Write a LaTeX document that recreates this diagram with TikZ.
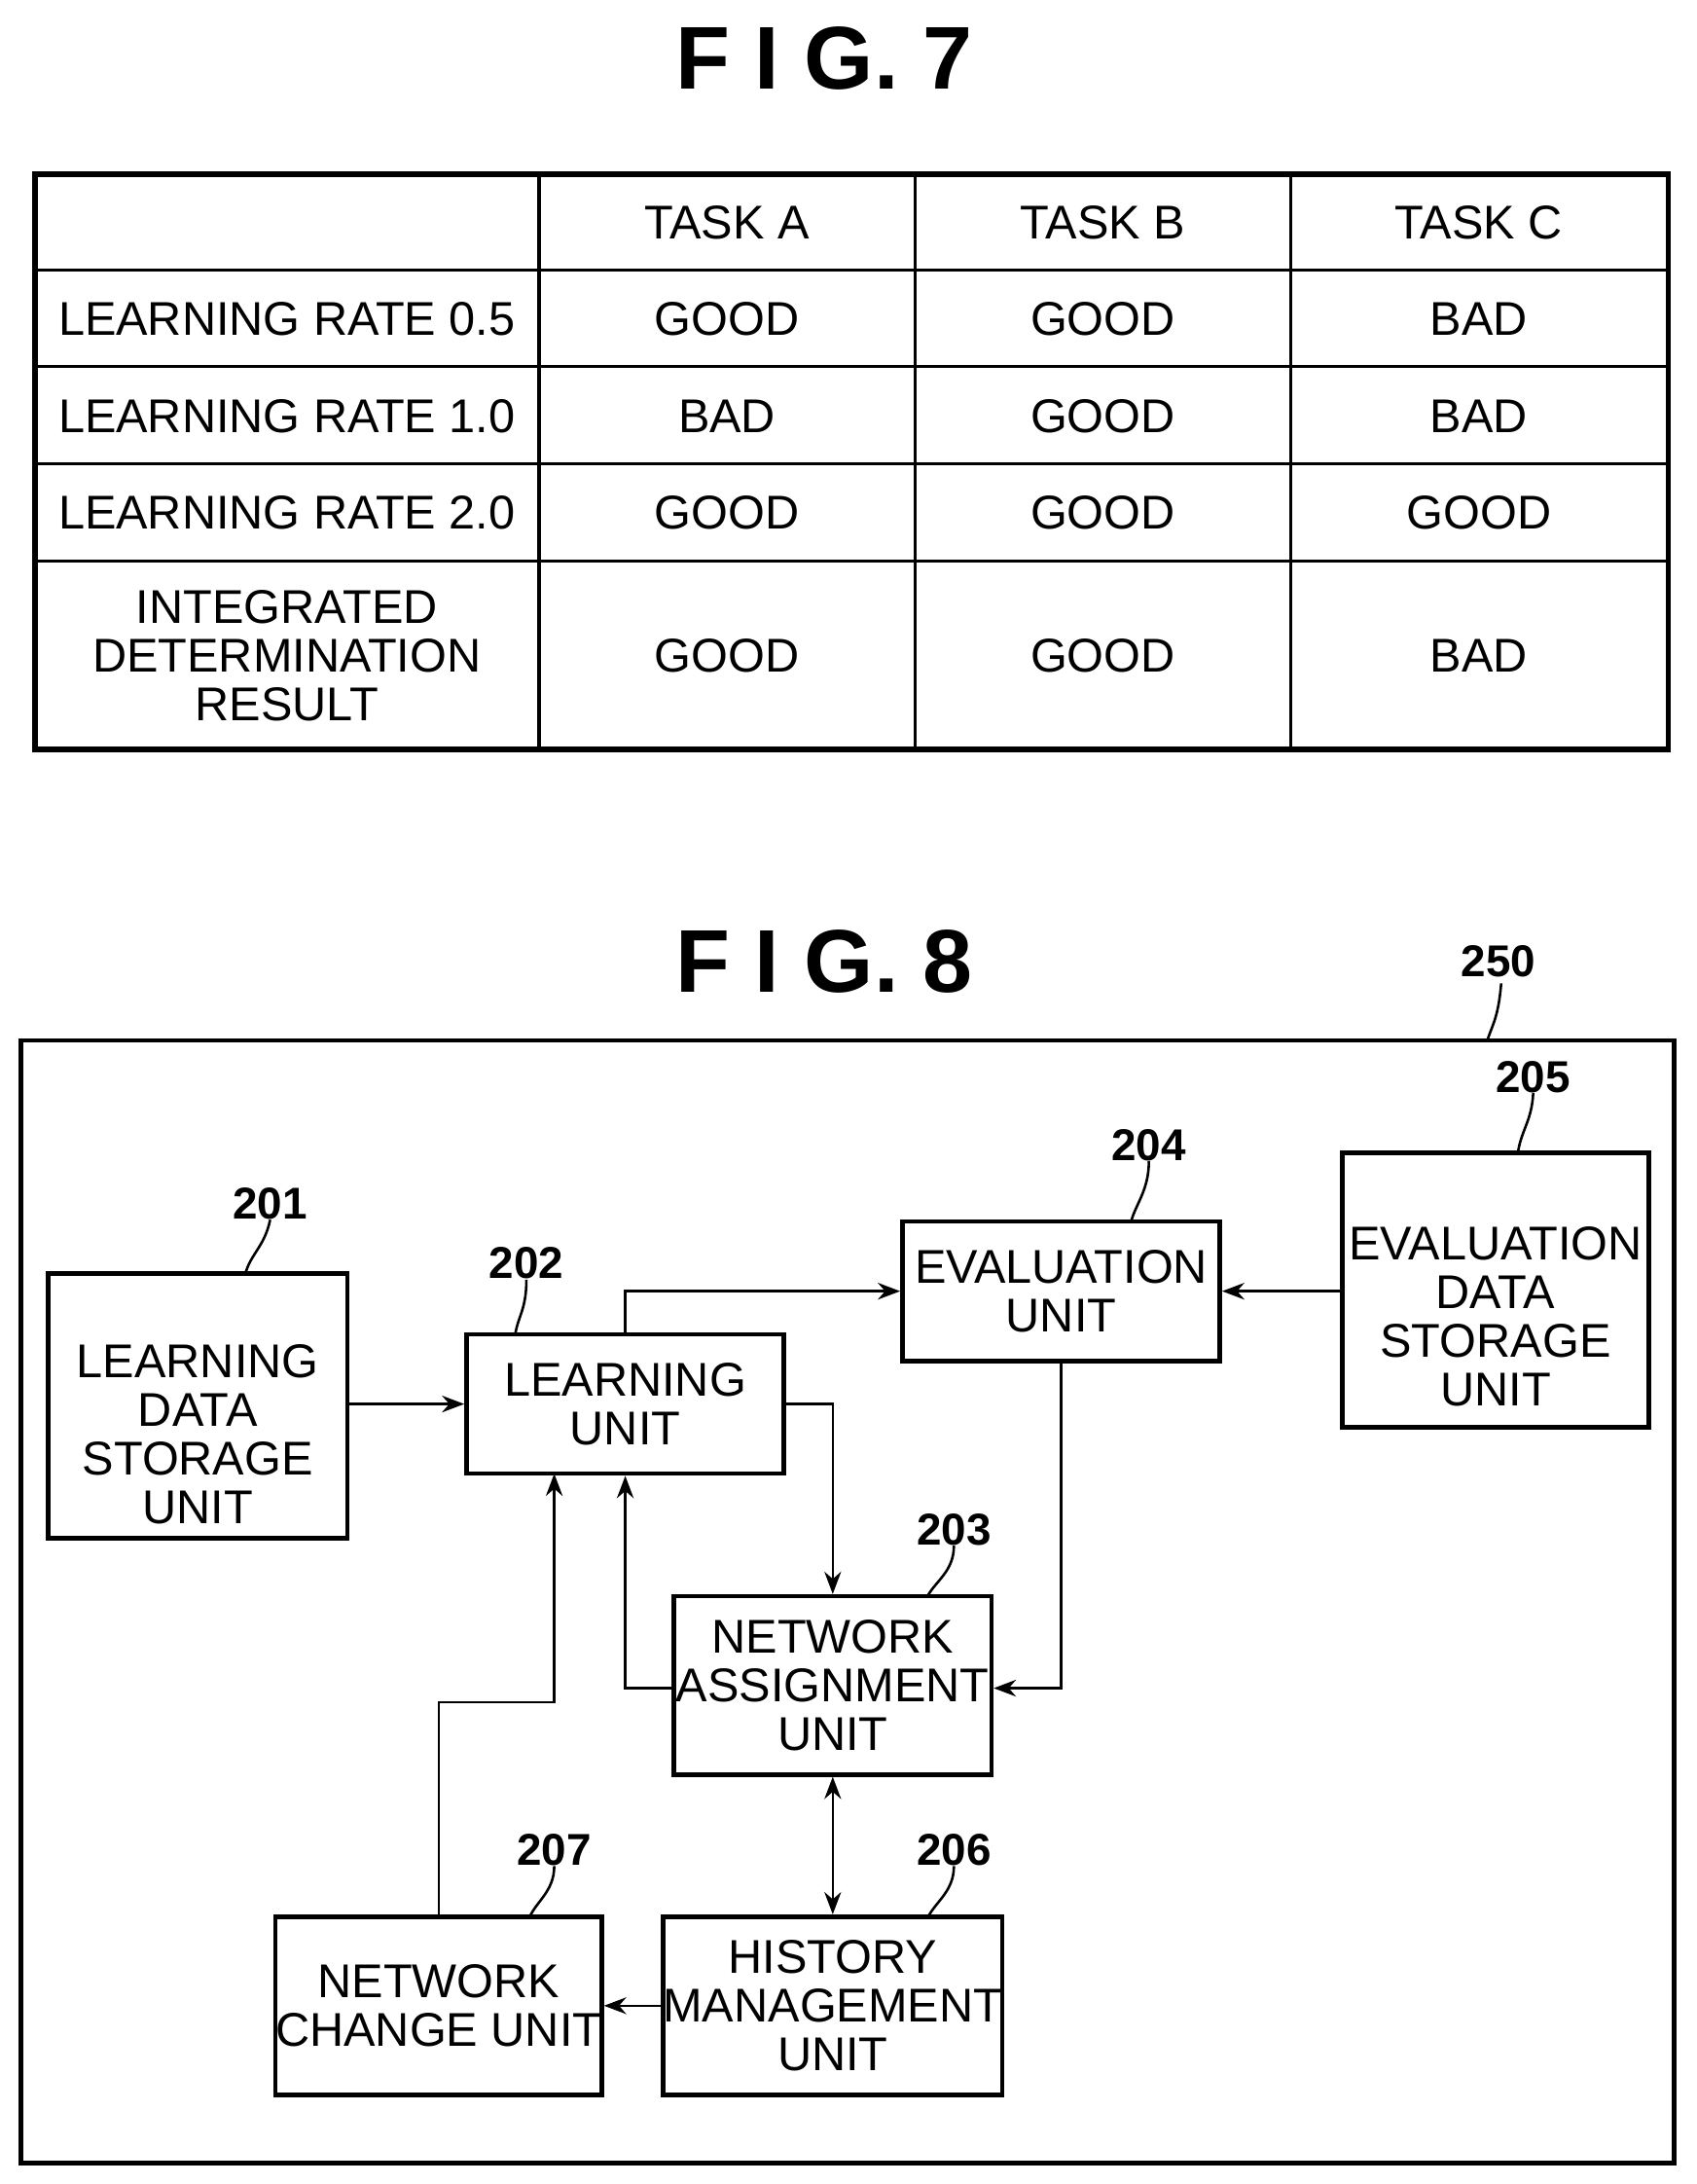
\documentclass[tikz,border=0pt]{standalone}
\usepackage{fontspec}
\setmainfont{Liberation Sans}
\usetikzlibrary{shapes.geometric,arrows.meta}
\begin{document}
\begin{tikzpicture}[x=0.5pt,y=-0.5pt,
  txt/.style={font=\fontsize{17}{17.5}\selectfont,align=center,inner sep=0},
  box/.style={draw,line width=1.6pt,inner sep=0},
  title/.style={font=\fontsize{32}{32}\bfseries\selectfont,inner sep=0},
  lbl/.style={font=\fontsize{16}{16}\bfseries\selectfont,inner sep=0},
  arr/.style={line width=0.9pt,-{Stealth[length=8pt,width=6pt]}},
  ln/.style={line width=0.9pt},
  cyl/.style={draw,line width=1.6pt,cylinder,shape border rotate=90,aspect=0.25,inner sep=0}]
\useasboundingbox (0,0) rectangle (1218,1568);
% FIG 7
\node[title] (t7) at (592,42) {F I G. 7};
\draw[line width=2pt] (25,125) rectangle (1198,538);
\foreach \x in {387,657,927} \draw[line width=1.2pt] (\x,125) -- (\x,538);
\foreach \y in {194,263,333,403} \draw[line width=1.2pt] (25,\y) -- (1198,\y);
\node[txt] (h1) at (522,160) {TASK A};
\node[txt] (h2) at (792,160) {TASK B};
\node[txt] (h3) at (1062,160) {TASK C};
\node[txt] (r1) at (206,229) {LEARNING RATE 0.5};
\node[txt] (r2) at (206,299) {LEARNING RATE 1.0};
\node[txt] (r3) at (206,368) {LEARNING RATE 2.0};
\node[txt] (r4) at (206,471) {INTEGRATED\\DETERMINATION\\RESULT};
\node[txt] (c11) at (522,229) {GOOD};
\node[txt] (c12) at (792,229) {GOOD};
\node[txt] (c13) at (1062,229) {BAD};
\node[txt] (c21) at (522,299) {BAD};
\node[txt] (c22) at (792,299) {GOOD};
\node[txt] (c23) at (1062,299) {BAD};
\node[txt] (c31) at (522,368) {GOOD};
\node[txt] (c32) at (792,368) {GOOD};
\node[txt] (c33) at (1062,368) {GOOD};
\node[txt] (c41) at (522,471) {GOOD};
\node[txt] (c42) at (792,471) {GOOD};
\node[txt] (c43) at (1062,471) {BAD};
% FIG 8
\node[title] (t8) at (592,690) {F I G. 8};
\node[box,minimum width=593.5pt,minimum height=403pt] (outer) at (608.5,1150) {};
\node[lbl] (l250) at (1076,690) {250};
\node[cyl,minimum width=107.5pt,minimum height=95pt] (s201) at (142,1010) {};
\node[txt] at (142,1030) {LEARNING\\DATA\\STORAGE\\UNIT};
\node[cyl,minimum width=110pt,minimum height=98.5pt] (s205) at (1074,927) {};
\node[txt] at (1074,945) {EVALUATION\\DATA\\STORAGE\\UNIT};
\node[box,txt,draw,line width=1.6pt,minimum width=114pt,minimum height=50pt] (u202) at (449,1008) {LEARNING\\UNIT};
\node[box,txt,draw,line width=1.6pt,minimum width=114pt,minimum height=50pt] (u204) at (762,927) {EVALUATION\\UNIT};
\node[box,txt,draw,line width=1.6pt,minimum width=114pt,minimum height=64pt] (u203) at (598,1210) {NETWORK\\ASSIGNMENT\\UNIT};
\node[box,txt,draw,line width=1.6pt,minimum width=114pt,minimum height=64pt] (u206) at (598,1440) {HISTORY\\MANAGEMENT\\UNIT};
\node[box,txt,draw,line width=1.6pt,minimum width=114pt,minimum height=64pt] (u207) at (315,1440) {NETWORK\\CHANGE UNIT};
\node[lbl] (l201) at (194,864) {201};
\node[lbl] (l202) at (378,907) {202};
\node[lbl] (l203) at (685,1098) {203};
\node[lbl] (l204) at (825,822) {204};
\node[lbl] (l205) at (1101,773) {205};
\node[lbl] (l206) at (685,1328) {206};
\node[lbl] (l207) at (398,1328) {207};
\draw[ln] (1078,706) .. controls (1076,730) and (1072,735) .. (1068,747);
\draw[ln] (l201.south) .. controls (190,895) and (180,900) .. (176,915);
\draw[ln] (l202.south) .. controls (378,940) and (372,945) .. (370,958);
\draw[ln] (l203.south) .. controls (685,1128) and (672,1135) .. (666,1146);
\draw[ln] (l204.south) .. controls (825,855) and (815,865) .. (812,878);
\draw[ln] (l205.south) .. controls (1100,805) and (1092,812) .. (1090,828);
\draw[ln] (l206.south) .. controls (685,1358) and (672,1365) .. (666,1377);
\draw[ln] (l207.south) .. controls (398,1358) and (385,1365) .. (380,1377);
% connectors
\draw[arr] (s201.east |- u202.west) -- (u202.west);
\draw[arr] (u202.north) -- (449,927) -- (u204.west);
\draw[arr] (s205.west |- u204.east) -- (u204.east);
\draw[arr] (u202.east) -- (598,1008) -- (u203.north);
\draw[arr] (u204.south) -- (762,1212) -- (u203.east |- 762,1212);
\draw[arr] (u203.west |- 449,1212) -- (449,1212) -- (u202.south);
\draw[arr] (u207.north) -- (315,1222) -- (398,1222) -- (398,1058);
\draw[line width=0.9pt,{Stealth[length=8pt,width=6pt]}-{Stealth[length=8pt,width=6pt]}] (u203.south) -- (u206.north);
\draw[arr] (u206.west) -- (u207.east);
\end{tikzpicture}
\end{document}
